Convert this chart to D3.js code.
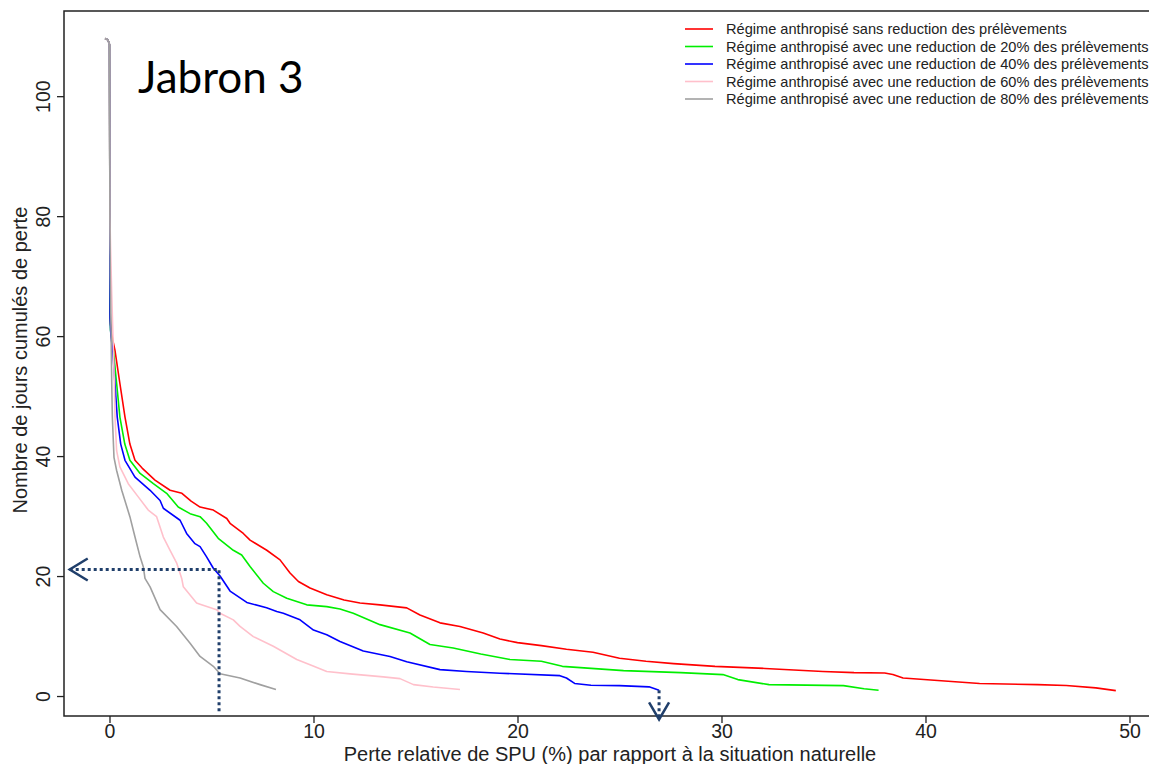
<!DOCTYPE html>
<html>
<head>
    <meta charset="utf-8">
    <title>Jabron 3</title>
    <script src="https://cdn.jsdelivr.net/npm/d3@7"></script>
    <style>
        body { margin: 0; background: #fff; }
        svg text { font-family: "Liberation Sans", Arial, sans-serif; fill: #222; }
    </style>
</head>
<body>
<script>
// Chart data (x = perte relative %, y = jours cumulés)
var seriesNames = [
    'Régime anthropisé sans reduction des prélèvements',
    'Régime anthropisé avec une reduction de 20% des prélèvements',
    'Régime anthropisé avec une reduction de 40% des prélèvements',
    'Régime anthropisé avec une reduction de 60% des prélèvements',
    'Régime anthropisé avec une reduction de 80% des prélèvements'
];
var seriesColors = ['#ff0000', '#00ee00', '#0000ff', '#ffc0cb', '#a0a0a0'];

// all curves start together at the top
var topStart = [[-0.22, 109.6], [-0.08, 109.4], [0, 108.6], [0.01, 95], [0.02, 80]];

var red = [[0.02, 66], [0.05, 62], [0.15, 59.5], [0.27, 57.6], [0.51, 52.1], [0.76, 46.5], [1.0, 42], [1.25, 39.3],
    [1.6, 38], [2.23, 36.0], [2.97, 34.3], [3.55, 33.8], [4.0, 32.5], [4.44, 31.5], [5.09, 31.0], [5.75, 29.6],
    [5.91, 28.8], [6.56, 27.1], [6.89, 26.0], [7.71, 24.3], [8.36, 22.7], [8.85, 20.5], [9.26, 19.1], [9.83, 18.0],
    [10.65, 16.9], [11.5, 16.0], [12.28, 15.5], [13.26, 15.2], [14.57, 14.7], [15.22, 13.5], [16.2, 12.2],
    [17.18, 11.6], [18.32, 10.5], [19.14, 9.5], [20.0, 8.9], [21.17, 8.4], [22.4, 7.8], [23.7, 7.3], [25.0, 6.3],
    [26.3, 5.8], [27.65, 5.4], [29.68, 4.95], [32.13, 4.6], [34.97, 4.1], [36.5, 3.9], [38.0, 3.85], [38.4, 3.6],
    [38.9, 3.0], [40.6, 2.6], [42.65, 2.1], [45.5, 1.9], [46.9, 1.75], [48.35, 1.36], [49.33, 0.9]];

var green = [[0.02, 66], [0.05, 61], [0.19, 57.6], [0.35, 52.1], [0.51, 46.5], [0.75, 42], [1.0, 39.3], [1.5, 37.1],
    [2.15, 35.4], [2.8, 33.8], [3.37, 31.5], [3.95, 30.4], [4.44, 29.9], [4.76, 28.8], [5.33, 26.3], [6.07, 24.3],
    [6.48, 23.5], [6.89, 21.6], [7.54, 18.8], [8.03, 17.4], [8.69, 16.3], [9.67, 15.2], [10.65, 14.9], [11.3, 14.5],
    [11.95, 13.8], [13.26, 11.9], [14.73, 10.5], [15.71, 8.6], [16.85, 8.0], [18.2, 7.0], [19.63, 6.1], [21.17, 5.8],
    [22.2, 4.95], [25.2, 4.24], [28.0, 3.9], [30.07, 3.57], [30.8, 2.74], [32.33, 1.9], [35.98, 1.74], [36.99, 1.2],
    [37.7, 0.96]];

var blue = [[0.03, 63], [0.07, 60], [0.16, 57.6], [0.27, 52.0], [0.38, 46.5], [0.55, 42], [0.76, 39.3], [1.25, 36.5],
    [1.99, 34.3], [2.48, 32.6], [2.64, 31.3], [3.46, 29.3], [3.78, 27.1], [4.19, 25.4], [4.44, 24.9], [4.76, 23.2],
    [5.09, 21.3], [5.42, 20.0], [5.91, 17.5], [6.73, 15.6], [7.7, 14.7], [8.2, 14.1], [8.52, 13.8], [9.34, 12.7],
    [10.0, 11.0], [10.65, 10.2], [11.3, 9.1], [12.44, 7.5], [13.75, 6.6], [14.57, 5.7], [16.2, 4.4], [17.5, 4.1],
    [19.14, 3.8], [22.08, 3.4], [22.4, 3.0], [22.8, 2.1], [23.6, 1.8], [25.0, 1.74], [26.45, 1.53], [26.94, 0.96]];

var pink = [[0.05, 75], [0.11, 67], [0.19, 57.6], [0.24, 52], [0.27, 46.5], [0.35, 40.9], [0.51, 38.2], [0.92, 35.4],
    [1.41, 33.2], [1.9, 31.0], [2.31, 29.9], [2.64, 26.5], [2.97, 24.3], [3.29, 22.2], [3.54, 19.6], [3.62, 18.2],
    [4.27, 15.5], [4.44, 15.3], [5.25, 14.4], [5.42, 13.8], [6.07, 12.7], [6.4, 11.6], [7.05, 9.9], [8.03, 8.3],
    [9.18, 6.1], [9.83, 5.2], [10.65, 4.1], [11.79, 3.7], [13.42, 3.2], [14.24, 2.9], [14.9, 1.9], [15.87, 1.5],
    [17.18, 1.08]];

var gray = [[0.04, 70], [0.08, 60], [0.11, 52], [0.14, 46.5], [0.22, 39.8], [0.35, 37.6], [0.6, 34.3], [1.0, 29.9],
    [1.25, 26.5], [1.5, 23.2], [1.66, 21.5], [1.74, 19.6], [1.99, 18.2], [2.48, 14.4], [3.29, 11.6], [3.95, 8.8],
    [4.44, 6.6], [5.09, 4.95], [5.42, 3.7], [6.4, 3.0], [7.38, 1.9], [8.16, 1.08]];

var xTicks = [0, 10, 20, 30, 40, 50];
var yTicks = [0, 20, 40, 60, 80, 100];

// reading guides drawn on top (dotted arrows)
var guideA = {x: 5.37, y: 21.1, xArrow: -1.95, yEnd: -2.6};
var guideB = {x: 26.94, yStart: 0.96, yArrow: -3.9};

var width = 1149, height = 764;
var plotLeft = 64, plotTop = 11, plotBottom = 716;

var svg = d3.select('body').append('svg')
    .attr('width', width)
    .attr('height', height);

var x = d3.scaleLinear().domain([-2.23, 51.4]).range([plotLeft, plotLeft + 53.63 * 20.4]);
var y = d3.scaleLinear().domain([-3.33, 114.2]).range([plotBottom, plotTop]);

// frame (right side runs off the picture)
svg.append('rect')
    .attr('x', plotLeft).attr('y', plotTop)
    .attr('width', x(51.4) - plotLeft + 10).attr('height', plotBottom - plotTop)
    .attr('fill', 'none').attr('stroke', '#222').attr('stroke-width', 1.5);

// axes
var xAxis = svg.append('g')
    .attr('transform', 'translate(0,' + plotBottom + ')')
    .call(d3.axisBottom(x).tickValues(xTicks).tickSize(7).tickPadding(4));
var yAxis = svg.append('g')
    .attr('transform', 'translate(' + plotLeft + ',0)')
    .call(d3.axisLeft(y).tickValues(yTicks).tickSize(7).tickPadding(4));
[xAxis, yAxis].forEach(function(a) {
    a.select('.domain').remove();
    a.selectAll('line').attr('stroke', '#222').attr('stroke-width', 1.3);
    a.selectAll('text').attr('font-size', 19.5)
        .style('fill', '#222')
        .style('font-family', '"Liberation Sans", Arial, sans-serif');
});
xAxis.selectAll('text').attr('dy', null).attr('y', 22);
// R style: y labels run along the axis
yAxis.selectAll('text')
    .attr('x', null).attr('dy', null).attr('y', 0)
    .attr('text-anchor', 'middle')
    .attr('transform', 'translate(-14,0) rotate(-90)');

// axis titles
svg.append('text')
    .attr('x', 610).attr('y', 761)
    .attr('text-anchor', 'middle').attr('font-size', 20)
    .text('Perte relative de SPU (%) par rapport à la situation naturelle');
svg.append('text')
    .attr('transform', 'translate(27,' + y(56) + ') rotate(-90)')
    .attr('text-anchor', 'middle').attr('font-size', 20)
    .text('Nombre de jours cumulés de perte');

// curves
var line = d3.line().x(function(d) { return x(d[0]); }).y(function(d) { return y(d[1]); });
var allSeries = [red, green, blue, pink, gray];
svg.append('g').selectAll('path')
    .data(allSeries)
    .enter().append('path')
    .attr('d', function(d) { return line(topStart.concat(d)); })
    .attr('fill', 'none')
    .attr('stroke', function(d, i) { return seriesColors[i]; })
    .attr('stroke-width', 1.6)
    .attr('stroke-linejoin', 'round');

// legend
var legend = svg.append('g').selectAll('g')
    .data(seriesNames)
    .enter().append('g')
    .attr('transform', function(d, i) { return 'translate(685,' + (29 + i * 17.5) + ')'; });
legend.append('line')
    .attr('x1', 0).attr('x2', 28)
    .attr('stroke', function(d, i) { return seriesColors[i]; })
    .attr('stroke-width', 1.6);
legend.append('text')
    .attr('x', 41).attr('y', 5)
    .attr('font-size', 14.6)
    .text(function(d) { return d; });

// title inside the plot
svg.append('text')
    .attr('x', 138).attr('y', 93)
    .style('font-family', 'Lato, "Open Sans", sans-serif')
    .style('fill', '#000')
    .attr('font-size', 44)
    .text('Jabron 3');

// dotted reading guides
var guideColor = '#203f6b';
var g = svg.append('g').attr('fill', 'none').attr('stroke', guideColor);
g.append('path')
    .attr('d', 'M' + x(guideA.xArrow) + ',' + y(guideA.y) + 'H' + x(guideA.x) + 'V' + y(guideA.yEnd))
    .attr('stroke-width', 3).attr('stroke-dasharray', '3,3');
g.append('path')
    .attr('d', 'M' + (x(guideA.xArrow) + 18) + ',' + (y(guideA.y) - 11) + 'L' + x(guideA.xArrow) + ',' + y(guideA.y) +
        'L' + (x(guideA.xArrow) + 18) + ',' + (y(guideA.y) + 11))
    .attr('stroke-width', 2.5);
g.append('path')
    .attr('d', 'M' + x(guideB.x) + ',' + y(guideB.yStart) + 'V' + y(guideB.yArrow))
    .attr('stroke-width', 3).attr('stroke-dasharray', '3,3');
g.append('path')
    .attr('d', 'M' + (x(guideB.x) - 10) + ',' + (y(guideB.yArrow) - 17) + 'L' + x(guideB.x) + ',' + y(guideB.yArrow) +
        'L' + (x(guideB.x) + 10) + ',' + (y(guideB.yArrow) - 17))
    .attr('stroke-width', 2.5);
</script>
</body>
</html>
